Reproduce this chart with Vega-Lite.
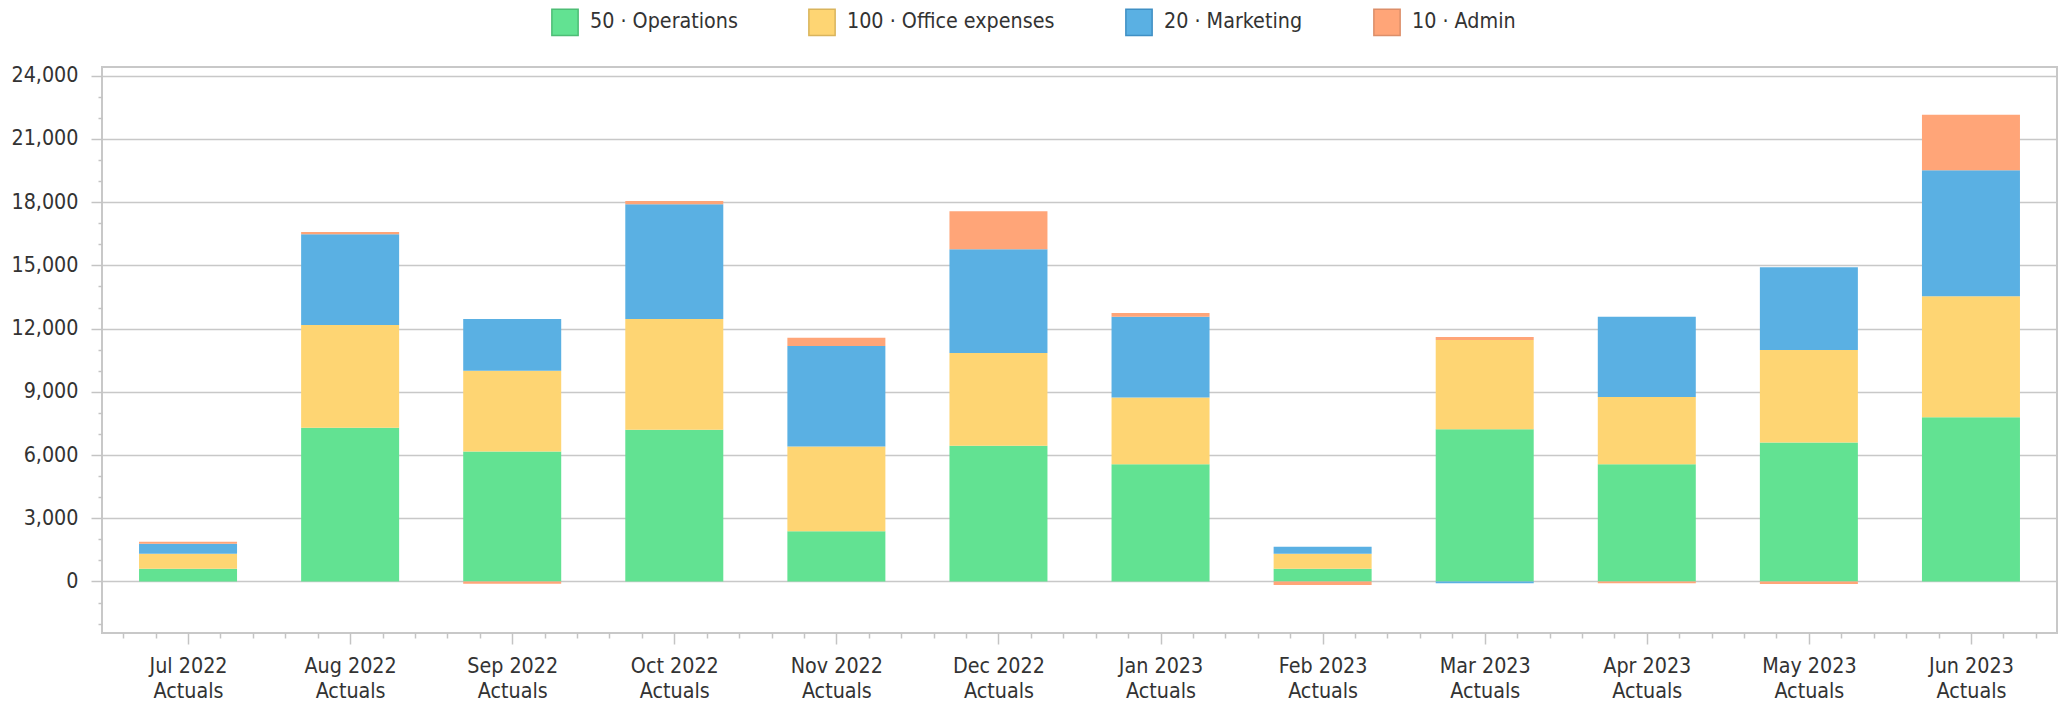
{
  "$schema": "https://vega.github.io/schema/vega-lite/v6.json",
  "width": 1955,
  "height": 566,
  "autosize": {"type": "none"},
  "padding": {"left": 102, "top": 67, "right": 12, "bottom": 73},
  "background": "white",
  "data": {
    "values": [
      {"month": "Jul 2022", "series": "50 · Operations", "value": 600},
      {"month": "Jul 2022", "series": "100 · Office expenses", "value": 720},
      {"month": "Jul 2022", "series": "20 · Marketing", "value": 470},
      {"month": "Jul 2022", "series": "10 · Admin", "value": 100},
      {"month": "Aug 2022", "series": "50 · Operations", "value": 7300},
      {"month": "Aug 2022", "series": "100 · Office expenses", "value": 4870},
      {"month": "Aug 2022", "series": "20 · Marketing", "value": 4310},
      {"month": "Aug 2022", "series": "10 · Admin", "value": 100},
      {"month": "Sep 2022", "series": "50 · Operations", "value": 6170},
      {"month": "Sep 2022", "series": "100 · Office expenses", "value": 3830},
      {"month": "Sep 2022", "series": "20 · Marketing", "value": 2460},
      {"month": "Sep 2022", "series": "10 · Admin", "value": -110},
      {"month": "Oct 2022", "series": "50 · Operations", "value": 7200},
      {"month": "Oct 2022", "series": "100 · Office expenses", "value": 5260},
      {"month": "Oct 2022", "series": "20 · Marketing", "value": 5440},
      {"month": "Oct 2022", "series": "10 · Admin", "value": 150},
      {"month": "Nov 2022", "series": "50 · Operations", "value": 2380},
      {"month": "Nov 2022", "series": "100 · Office expenses", "value": 4030},
      {"month": "Nov 2022", "series": "20 · Marketing", "value": 4760},
      {"month": "Nov 2022", "series": "10 · Admin", "value": 390},
      {"month": "Dec 2022", "series": "50 · Operations", "value": 6440},
      {"month": "Dec 2022", "series": "100 · Office expenses", "value": 4400},
      {"month": "Dec 2022", "series": "20 · Marketing", "value": 4920},
      {"month": "Dec 2022", "series": "10 · Admin", "value": 1810},
      {"month": "Jan 2023", "series": "50 · Operations", "value": 5560},
      {"month": "Jan 2023", "series": "100 · Office expenses", "value": 3170},
      {"month": "Jan 2023", "series": "20 · Marketing", "value": 3830},
      {"month": "Jan 2023", "series": "10 · Admin", "value": 180},
      {"month": "Feb 2023", "series": "50 · Operations", "value": 600},
      {"month": "Feb 2023", "series": "100 · Office expenses", "value": 720},
      {"month": "Feb 2023", "series": "20 · Marketing", "value": 330},
      {"month": "Feb 2023", "series": "10 · Admin", "value": -170},
      {"month": "Mar 2023", "series": "50 · Operations", "value": 7220},
      {"month": "Mar 2023", "series": "100 · Office expenses", "value": 4240},
      {"month": "Mar 2023", "series": "20 · Marketing", "value": -80},
      {"month": "Mar 2023", "series": "10 · Admin", "value": 140},
      {"month": "Apr 2023", "series": "50 · Operations", "value": 5560},
      {"month": "Apr 2023", "series": "100 · Office expenses", "value": 3190},
      {"month": "Apr 2023", "series": "20 · Marketing", "value": 3810},
      {"month": "Apr 2023", "series": "10 · Admin", "value": -80},
      {"month": "May 2023", "series": "50 · Operations", "value": 6600},
      {"month": "May 2023", "series": "100 · Office expenses", "value": 4380},
      {"month": "May 2023", "series": "20 · Marketing", "value": 3930},
      {"month": "May 2023", "series": "10 · Admin", "value": -120},
      {"month": "Jun 2023", "series": "50 · Operations", "value": 7790},
      {"month": "Jun 2023", "series": "100 · Office expenses", "value": 5740},
      {"month": "Jun 2023", "series": "20 · Marketing", "value": 5980},
      {"month": "Jun 2023", "series": "10 · Admin", "value": 2640}
    ]
  },
  "transform": [
    {"calculate": "indexof(['Jul 2022','Aug 2022','Sep 2022','Oct 2022','Nov 2022','Dec 2022','Jan 2023','Feb 2023','Mar 2023','Apr 2023','May 2023','Jun 2023'], datum.month)", "as": "idx"},
    {"calculate": "indexof(['50 · Operations','100 · Office expenses','20 · Marketing','10 · Admin'], datum.series)", "as": "ord"}
  ],
  "mark": {"type": "bar", "size": 98, "strokeWidth": 0},
  "encoding": {
    "x": {
      "field": "idx",
      "type": "quantitative",
      "scale": {"domain": [-0.5, 11.5], "nice": false, "zero": false},
      "axis": {
        "title": null,
        "grid": false,
        "domain": false,
        "values": [-0.4, -0.2, 0, 0.2, 0.4, 0.6, 0.8, 1, 1.2, 1.4, 1.6, 1.8, 2, 2.2, 2.4, 2.6, 2.8, 3, 3.2, 3.4, 3.6, 3.8, 4, 4.2, 4.4, 4.6, 4.8, 5, 5.2, 5.4, 5.6, 5.8, 6, 6.2, 6.4, 6.6, 6.8, 7, 7.2, 7.4, 7.6, 7.8, 8, 8.2, 8.4, 8.6, 8.8, 9, 9.2, 9.4, 9.6, 9.8, 10, 10.2, 10.4, 10.6, 10.8, 11, 11.2, 11.4],
        "labelExpr": "abs(datum.value - round(datum.value)) < 0.05 ? [['Jul 2022','Aug 2022','Sep 2022','Oct 2022','Nov 2022','Dec 2022','Jan 2023','Feb 2023','Mar 2023','Apr 2023','May 2023','Jun 2023'][round(datum.value)], 'Actuals'] : ''",
        "tickSize": {"condition": {"test": "abs(datum.value - round(datum.value)) < 0.05", "value": 11}, "value": 5},
        "tickColor": "#c4c4c4",
        "tickWidth": 1.5,
        "labelPadding": 11,
        "labelLineHeight": 25,
        "labelAngle": 0,
        "labelAlign": "center",
        "labelBaseline": "top",
        "labelOverlap": false,
        "labelFlush": false
      }
    },
    "y": {
      "field": "value",
      "type": "quantitative",
      "stack": "zero",
      "scale": {"domain": [-2444, 24413], "nice": false, "zero": false},
      "axis": {
        "title": null,
        "domain": false,
        "values": [-2000, -1000, 0, 1000, 2000, 3000, 4000, 5000, 6000, 7000, 8000, 9000, 10000, 11000, 12000, 13000, 14000, 15000, 16000, 17000, 18000, 19000, 20000, 21000, 22000, 23000, 24000],
        "labelExpr": "datum.value % 3000 === 0 ? format(datum.value, ',') : ''",
        "tickSize": {"condition": {"test": "datum.value % 3000 === 0", "value": 11}, "value": 4},
        "tickColor": "#c4c4c4",
        "tickWidth": 1.5,
        "grid": true,
        "gridColor": "#c8c8c8",
        "gridWidth": 1.5,
        "gridOpacity": {"condition": {"test": "datum.value % 3000 === 0", "value": 1}, "value": 0},
        "labelPadding": 13,
        "labelOverlap": false,
        "labelFlush": false
      }
    },
    "color": {
      "field": "series",
      "type": "nominal",
      "scale": {
        "domain": ["50 · Operations", "100 · Office expenses", "20 · Marketing", "10 · Admin"],
        "range": ["#62e292", "#fed573", "#5ab0e3", "#ffa578"]
      },
      "legend": {
        "title": null,
        "orient": "none",
        "legendX": 449,
        "legendY": -59,
        "direction": "horizontal",
        "symbolType": "square",
        "symbolSize": 690,
        "symbolStrokeWidth": 1.5,
        "labelFontSize": 21.3,
        "labelOffset": 11,
        "columnPadding": 67,
        "labelLimit": 500,
        "padding": 0
      }
    },
    "stroke": {
      "field": "series",
      "type": "nominal",
      "scale": {
        "domain": ["50 · Operations", "100 · Office expenses", "20 · Marketing", "10 · Admin"],
        "range": ["#4dbd75", "#d9b45c", "#3f8fc4", "#dc8e69"]
      },
      "legend": {
        "title": null,
        "orient": "none",
        "legendX": 449,
        "legendY": -59,
        "direction": "horizontal",
        "symbolType": "square",
        "symbolSize": 690,
        "symbolStrokeWidth": 1.5,
        "labelFontSize": 21.3,
        "labelOffset": 11,
        "columnPadding": 67,
        "labelLimit": 500,
        "padding": 0
      }
    },
    "order": {"field": "ord", "type": "quantitative"}
  },
  "config": {
    "font": "DejaVu Sans Condensed, Liberation Sans, sans-serif",
    "view": {"stroke": "#c8c8c8", "strokeWidth": 2},
    "axis": {
      "labelFont": "DejaVu Sans Condensed, Liberation Sans, sans-serif",
      "labelFontSize": 21.3,
      "labelColor": "#333333"
    },
    "legend": {
      "labelFont": "DejaVu Sans Condensed, Liberation Sans, sans-serif",
      "labelFontSize": 21.3,
      "labelColor": "#333333"
    }
  }
}
